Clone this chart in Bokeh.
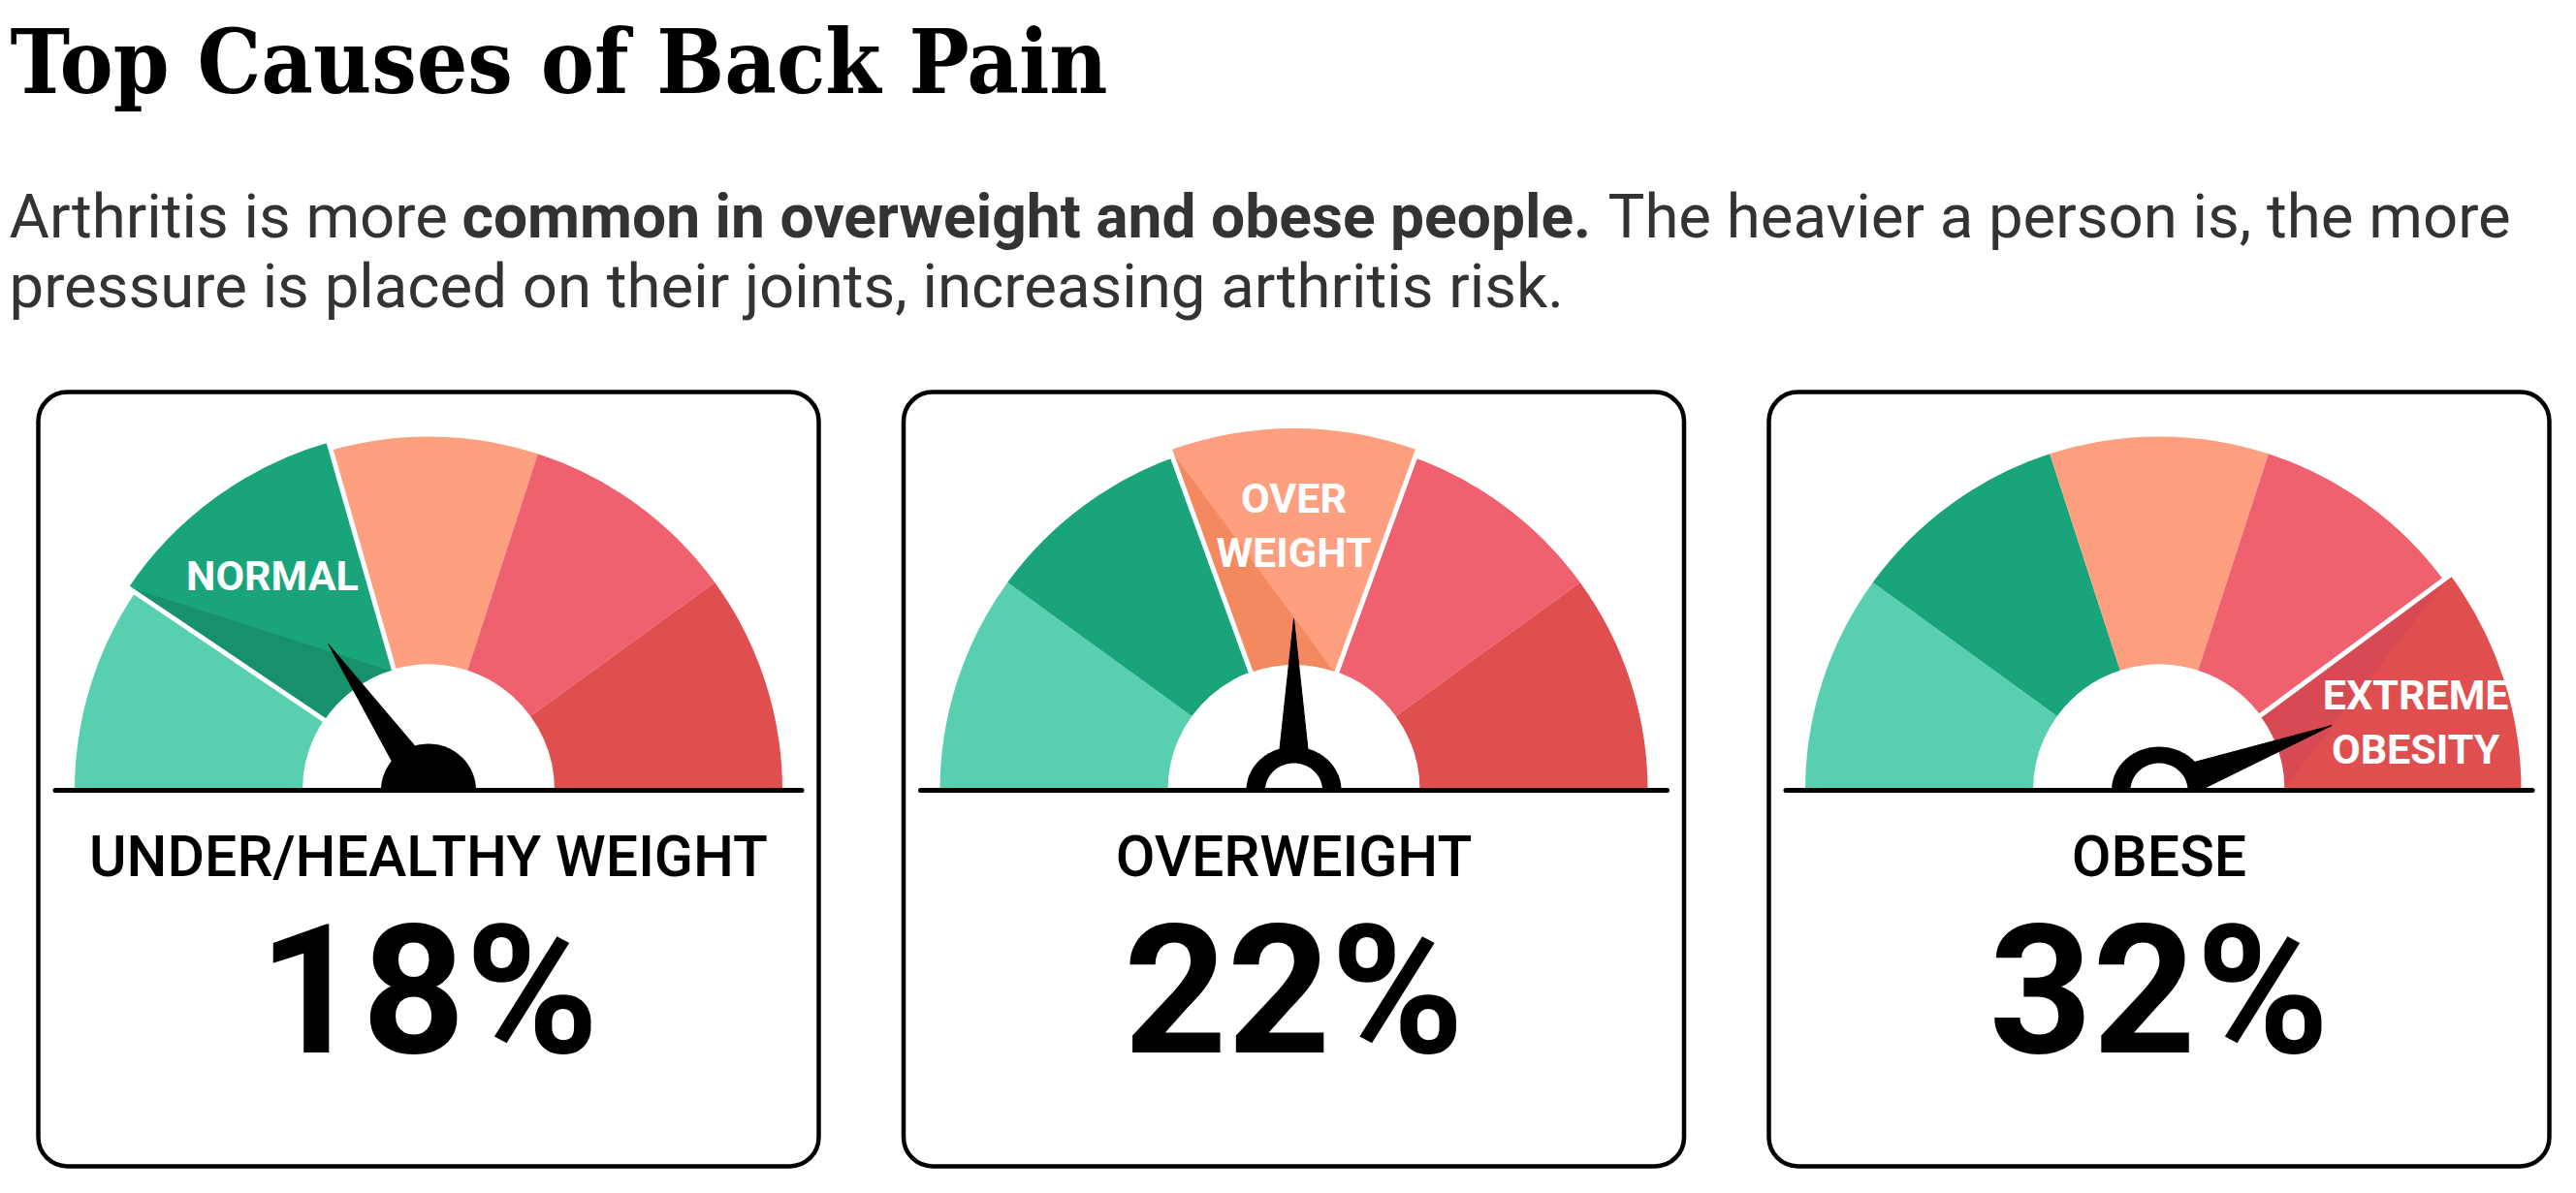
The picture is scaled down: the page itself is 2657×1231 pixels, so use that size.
import numpy as np
from bokeh.plotting import figure
from bokeh.models import Range1d, BoxAnnotation, ColumnDataSource
from bokeh.core.properties import value
from bokeh.embed import file_html
from bokeh.resources import INLINE

# ---------------- data ----------------
title_text = "Top Causes of Back Pain"
sub_line1_regular_a = "Arthritis is more "
sub_line1_bold = "common in overweight and obese people."
sub_line1_regular_b = "The heavier a person is, the more"
sub_line2 = "pressure is placed on their joints, increasing arthritis risk."

categories = ["UNDER/HEALTHY WEIGHT", "OVERWEIGHT", "OBESE"]
percents = [18, 22, 32]
zone_colors = ["#58d0b0", "#19a47c", "#fe9f80", "#ef616e", "#e04f50"]
zone_shadows = ["#4cbf9f", "#17916d", "#f4895f", "#e25563", "#d84a53"]
highlight_zone = [1, 2, 4]
highlight_labels = [["NORMAL"], ["OVER", "WEIGHT"], ["EXTREME", "OBESITY"]]
needle_deg = [124.4, 90.0, 20.6]
hub_style = ["solid", "ring", "ring"]

# ---------------- layout (page pixels) ----------------
W, H = 2657, 1231
BASE_SHIFT = 0.35  # text renders this many em below the requested baseline


def X(px):
    return px


def Y(py):
    return H - py


def TY(py, size):
    return Y(py) + BASE_SHIFT * size


card_left0, card_w, card_step = 39, 805, 892.5
card_top, card_bottom = 404, 1203
gauge_cy = 815
R_out, R_in = 365, 130
R_pop_out, R_pop_in = 376, 127
needle_len = [183, 177, 190]

p = figure(width=W, height=H, x_range=Range1d(0, W), y_range=Range1d(0, H),
           output_backend="svg", toolbar_location=None, min_border=0,
           x_axis_location=None, y_axis_location=None)
p.grid.visible = False
p.outline_line_color = None
p.background_fill_color = "white"
p.border_fill_color = "white"

# title and subtitle
tsize = 92
p.text(x=[X(10)], y=[TY(96, tsize)], text=[title_text], text_font=value("DejaVu Serif Condensed"),
       text_font_style="bold", text_font_size=f"{tsize}px", text_color="#000000",
       text_baseline="alphabetic", text_align="left")
sub_font = value("Roboto")
ssize = 63.5
bsize = 62.3
sub_col = "#333333"
p.text(x=[X(9)], y=[TY(245, ssize)], text=[sub_line1_regular_a], text_font=sub_font,
       text_font_size=f"{ssize}px", text_color=sub_col, text_baseline="alphabetic")
p.text(x=[X(476)], y=[TY(245, bsize)], text=[sub_line1_bold], text_font=sub_font, text_font_style="bold",
       text_font_size=f"{bsize}px", text_color=sub_col, text_baseline="alphabetic")
p.text(x=[X(1658)], y=[TY(245, ssize)], text=[sub_line1_regular_b], text_font=sub_font,
       text_font_size=f"{ssize}px", text_color=sub_col, text_baseline="alphabetic")
p.text(x=[X(9)], y=[TY(317, ssize)], text=[sub_line2], text_font=sub_font,
       text_font_size=f"{ssize}px", text_color=sub_col, text_baseline="alphabetic")

lab_size = 43
cat_size = 59
pct_size = 186

for i, cat in enumerate(categories):
    left = card_left0 + i * card_step
    cx = left + card_w / 2.0
    gx, gy = X(cx), Y(gauge_cy)
    p.add_layout(BoxAnnotation(left=X(left), right=X(left + card_w), top=Y(card_top), bottom=Y(card_bottom),
                               border_radius=30, fill_color="white", fill_alpha=1.0,
                               line_color="black", line_alpha=1.0, line_width=4.5, level="underlay"))
    # base zones
    starts = [np.radians(180 - 36 * (j + 1)) for j in range(5)]
    ends = [np.radians(180 - 36 * j) for j in range(5)]
    src = ColumnDataSource(dict(x=[gx] * 5, y=[gy] * 5, s=starts, e=ends, c=zone_colors))
    p.annular_wedge(x="x", y="y", inner_radius=R_in, outer_radius=R_out, start_angle="s", end_angle="e",
                    fill_color="c", line_color=None, source=src)
    # highlighted zone
    k = highlight_zone[i]
    lo, hi = 180 - 36 * (k + 1), 180 - 36 * k
    lo2 = max(lo - 2, 0)
    hi2 = hi + 2 if lo > 0 else hi + 0.5
    p.annular_wedge(x=[gx], y=[gy], inner_radius=R_pop_in, outer_radius=R_pop_out,
                    start_angle=[np.radians(lo2)], end_angle=[np.radians(hi2)],
                    fill_color=zone_colors[k], line_color=None)
    # shadow triangle
    a_hi, a_lo = np.radians(hi2), np.radians(lo2)
    sx = [gx + R_pop_out * np.cos(a_hi), gx + R_pop_in * np.cos(a_hi), gx + R_pop_in * np.cos(a_lo)]
    sy = [gy + R_pop_out * np.sin(a_hi), gy + R_pop_in * np.sin(a_hi), gy + R_pop_in * np.sin(a_lo)]
    p.patch(x=sx, y=sy, fill_color=zone_shadows[k], line_color=None)
    p.annular_wedge(x=[gx], y=[gy], inner_radius=R_pop_in, outer_radius=R_pop_out,
                    start_angle=[np.radians(lo2)], end_angle=[np.radians(hi2)],
                    fill_color=None, line_color="white", line_width=5)
    # white center
    p.wedge(x=[gx], y=[gy], radius=R_pop_in + 1, start_angle=[0], end_angle=[np.pi],
            fill_color="white", line_color=None)
    # highlight label
    lab_ang = np.radians(15 if lo == 0 else (lo + hi) / 2.0)
    lx = cx + 274 * np.cos(lab_ang)
    ly = gauge_cy - 274 * np.sin(lab_ang)  # page y of label centre
    lines = highlight_labels[i]
    n = len(lines)
    for m, t in enumerate(lines):
        base_py = ly + (m - (n - 1) / 2.0) * 56 + 0.711 * lab_size / 2.0
        p.text(x=[lx], y=[TY(base_py, lab_size)], text=[t], text_font=value("Roboto"), text_font_style="bold",
               text_font_size=f"{lab_size}px", text_color="white", text_align="center",
               text_baseline="alphabetic")
    # needle
    a = np.radians(needle_deg[i])
    ux, uy = np.cos(a), np.sin(a)
    vx, vy = -uy, ux
    L = needle_len[i]
    nx = [gx + 38 * ux + 15 * vx, gx + L * ux, gx + 38 * ux - 15 * vx]
    ny = [gy + 38 * uy + 15 * vy, gy + L * uy, gy + 38 * uy - 15 * vy]
    p.patch(x=nx, y=ny, fill_color="black", line_color="black", line_width=1)
    # hub
    t = np.linspace(0, np.pi, 60)
    if hub_style[i] == "solid":
        p.patch(x=gx + 49 * np.cos(t), y=gy + 48 * np.sin(t), fill_color="black", line_color=None)
    else:
        p.patch(x=gx + 49 * np.cos(t), y=gy + 45 * np.sin(t), fill_color="black", line_color=None)
        p.patch(x=gx + 29.5 * np.cos(t), y=gy + 28 * np.sin(t), fill_color="white", line_color=None)
    # base line
    p.segment(x0=[gx - 385], y0=[gy], x1=[gx + 385], y1=[gy], line_width=5, line_color="black",
              line_cap="round")
    # category & percent
    p.text(x=[gx], y=[TY(904, cat_size)], text=[cat], text_font=value("Roboto Medium"),
           text_font_size=f"{cat_size}px", text_color="black", text_align="center",
           text_baseline="alphabetic")
    p.text(x=[gx], y=[TY(1087, pct_size)], text=[f"{percents[i]}%"], text_font=value("Roboto"),
           text_font_style="bold", text_font_size=f"{pct_size}px", text_color="black",
           text_align="center", text_baseline="alphabetic")

open("out.html", "w").write(file_html(p, INLINE))
